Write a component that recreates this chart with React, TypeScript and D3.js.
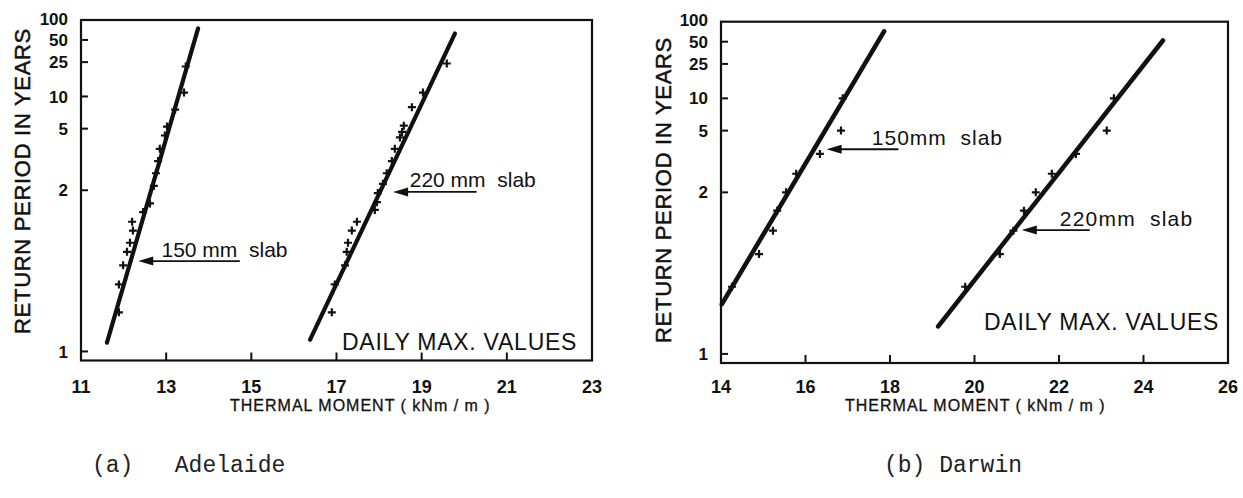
import React, { useEffect, useRef } from "react";
import * as d3 from "d3";

// points: [thermal moment kNm/m, return period years]
const adelaide150 = [
  [13.46, 22], [13.42, 11], [13.21, 7.4], [13.02, 5.2], [12.97, 4.4], [12.85, 3.5],
  [12.81, 2.9], [12.76, 2.45], [12.71, 2.1], [12.62, 1.75], [12.46, 1.62], [12.2, 1.5],
  [12.22, 1.41], [12.15, 1.31], [12.08, 1.25], [11.99, 1.18], [11.89, 1.11], [11.89, 1.05],
];
const adelaide220 = [
  [19.59, 24], [19.03, 11], [18.77, 7.8], [18.58, 5.3], [18.54, 4.7], [18.49, 4.25],
  [18.37, 3.5], [18.3, 2.9], [18.18, 2.45], [18.09, 2.15], [17.97, 1.94], [17.95, 1.77],
  [17.9, 1.65], [17.48, 1.5], [17.36, 1.41], [17.27, 1.31], [17.24, 1.25], [17.2, 1.18],
  [16.96, 1.11], [16.89, 1.05],
];
const darwin150 = [
  [16.88, 10], [16.84, 5], [16.34, 3.33], [15.78, 2.5], [15.54, 2], [15.33, 1.67],
  [15.23, 1.43], [14.9, 1.25], [14.26, 1.11],
];
const darwin220 = [
  [23.3, 10], [23.13, 5], [22.4, 3.33], [21.83, 2.5], [21.45, 2], [21.17, 1.67],
  [20.92, 1.43], [20.6, 1.25], [19.78, 1.11],
];

// fitted straight lines (end points)
const adelaide150Fit = [[11.61, 1.019], [13.75, 74]];
const adelaide220Fit = [[16.38, 1.021], [19.78, 62]];
const darwin150Fit = [[14.02, 1.068], [17.86, 71]];
const darwin220Fit = [[19.14, 1.035], [24.46, 52]];

const returnTicks = [1.014, 2, 5, 10, 25, 50, 100];
const returnLabels = ["1", "2", "5", "10", "25", "50", "100"];
const adelaideTicks = [11, 13, 15, 17, 19, 21, 23];
const darwinTicks = [14, 16, 18, 20, 22, 24, 26];

// inverse normal cdf (Acklam)
function probit(p) {
  const a = [-39.69683028665376, 220.9460984245205, -275.9285104469687, 138.357751867269, -30.66479806614716, 2.506628277459239];
  const b = [-54.47609879822406, 161.5858368580409, -155.6989798598866, 66.80131188771972, -13.28068155288572];
  const c = [-0.007784894002430293, -0.3223964580411365, -2.400758277161838, -2.549732539343734, 4.374664141464968, 2.938163982698783];
  const d = [0.007784695709041462, 0.3224671290700398, 2.445134137142996, 3.754408661907416];
  const pl = 0.02425;
  if (p < pl) {
    const q = Math.sqrt(-2 * Math.log(p));
    return (((((c[0] * q + c[1]) * q + c[2]) * q + c[3]) * q + c[4]) * q + c[5]) / ((((d[0] * q + d[1]) * q + d[2]) * q + d[3]) * q + 1);
  }
  if (p <= 1 - pl) {
    const q = p - 0.5, r = q * q;
    return (((((a[0] * r + a[1]) * r + a[2]) * r + a[3]) * r + a[4]) * r + a[5]) * q / (((((b[0] * r + b[1]) * r + b[2]) * r + b[3]) * r + b[4]) * r + 1);
  }
  const q = Math.sqrt(-2 * Math.log(1 - p));
  return -(((((c[0] * q + c[1]) * q + c[2]) * q + c[3]) * q + c[4]) * q + c[5]) / ((((d[0] * q + d[1]) * q + d[2]) * q + d[3]) * q + 1);
}
const zOf = (T) => probit(1 - 1 / T);

const W = 1243, H = 498;
const ink = "#111";
const sans = "'Liberation Sans', Arial, sans-serif";

const panels = [
  {
    x0: 81, x1: 592, top: 20, bottom: 360.5, domain: [11, 23], ticks: adelaideTicks,
    titleX: 22, titleY: 181, xTitleX: 230, lineW: 4.2,
    series: [adelaide150, adelaide220], fits: [adelaide150Fit, adelaide220Fit],
    notes: [
      { tip: [12.345, 1.2], tail: 14.73, text: "150 mm  slab", tx: 12.89, ls: 0 },
      { tip: [18.33, 1.964], tail: 20.29, text: "220 mm  slab", tx: 18.72, ls: 0 },
    ],
    dailyX: 342, dailyY: 350, caption: "(a)   Adelaide", capX: 92,
  },
  {
    x0: 721, x1: 1228, top: 21.7, bottom: 363, domain: [14, 26], ticks: darwinTicks,
    titleX: 663, titleY: 190, xTitleX: 845, lineW: 4.6,
    series: [darwin150, darwin220], fits: [darwin150Fit, darwin220Fit],
    notes: [
      { tip: [16.5, 3.593], tail: 18.2, text: "150mm  slab", tx: 17.57, ls: 1 },
      { tip: [21.12, 1.436], tail: 22.73, text: "220mm  slab", tx: 22.02, ls: 1.2 },
    ],
    dailyX: 984, dailyY: 330, caption: "(b) Darwin", capX: 884,
  },
];

export default function App() {
  const ref = useRef(null);

  useEffect(() => {
    const svg = d3.select(ref.current);
    svg.selectAll("*").remove();
    const zMax = zOf(100);

    panels.forEach((p) => {
      const x = d3.scaleLinear().domain(p.domain).range([p.x0, p.x1]);
      const y = d3.scaleLinear().domain([-zMax, zMax]).range([p.bottom, p.top]);
      const g = svg.append("g");

      // frame
      g.append("rect").attr("x", p.x0).attr("y", p.top).attr("width", p.x1 - p.x0).attr("height", p.bottom - p.top)
        .attr("fill", "none").attr("stroke", ink).attr("stroke-width", 2.2);

      // y ticks (normal probability scale)
      returnTicks.forEach((t, i) => {
        const yy = y(zOf(t));
        const last = i === returnTicks.length - 1;
        if (!last)
          g.append("line").attr("x1", p.x0).attr("x2", p.x0 + 7).attr("y1", yy).attr("y2", yy)
            .attr("stroke", ink).attr("stroke-width", 2);
        g.append("text").attr("x", p.x0 - 13).attr("y", last ? yy - 1.5 : yy)
          .attr("dy", "0.36em").attr("text-anchor", "end")
          .style("font", `bold 17px ${sans}`).attr("fill", ink).text(returnLabels[i]);
      });

      // x ticks
      p.ticks.forEach((t, i) => {
        const xx = x(t);
        if (i > 0 && i < p.ticks.length - 1)
          g.append("line").attr("x1", xx).attr("x2", xx).attr("y1", p.bottom).attr("y2", p.bottom - 8)
            .attr("stroke", ink).attr("stroke-width", 2);
        g.append("text").attr("x", xx).attr("y", 393).attr("text-anchor", "middle")
          .style("font", `bold 18px ${sans}`).attr("fill", ink).text(String(t));
      });

      // axis titles
      g.append("text").attr("transform", `translate(${p.titleX},${p.titleY}) rotate(-90)`)
        .attr("text-anchor", "middle").attr("dy", "0.36em")
        .style("font", `22px ${sans}`).style("letter-spacing", "0.7px")
        .attr("fill", ink).attr("stroke", ink).attr("stroke-width", 0.5)
        .text("RETURN PERIOD IN YEARS");
      g.append("text").attr("x", p.xTitleX).attr("y", 411)
        .style("font", `16px ${sans}`).style("letter-spacing", "1px")
        .attr("fill", ink).attr("stroke", ink).attr("stroke-width", 0.3)
        .text("THERMAL MOMENT ( kNm / m )");

      // fitted lines
      const line = d3.line().x((d) => x(d[0])).y((d) => y(zOf(d[1])));
      p.fits.forEach((f) => {
        g.append("path").attr("d", line(f)).attr("fill", "none").attr("stroke", ink)
          .attr("stroke-width", p.lineW).attr("stroke-linecap", "round");
      });

      // plotted points
      p.series.forEach((s) => {
        g.selectAll(null).data(s).enter().append("path")
          .attr("transform", (d) => `translate(${x(d[0])},${y(zOf(d[1]))})`)
          .attr("d", "M-4,0H4M0,-4V4").attr("stroke", ink).attr("stroke-width", 2.2);
      });

      // slab labels with arrows
      p.notes.forEach((n) => {
        const ty = y(zOf(n.tip[1]));
        const tx = x(n.tip[0]);
        g.append("line").attr("x1", tx + 10).attr("x2", x(n.tail)).attr("y1", ty).attr("y2", ty)
          .attr("stroke", ink).attr("stroke-width", 1.8);
        g.append("path").attr("d", `M${tx},${ty}L${tx + 15},${ty - 4.5}L${tx + 15},${ty + 4.5}Z`).attr("fill", ink);
        g.append("text").attr("x", x(n.tx)).attr("y", ty - 4.5)
          .style("font", `21px ${sans}`).style("letter-spacing", `${n.ls}px`).style("white-space", "pre")
          .attr("fill", ink).text(n.text);
      });

      g.append("text").attr("x", p.dailyX).attr("y", p.dailyY)
        .style("font", `23px ${sans}`).style("letter-spacing", "0.75px").attr("fill", ink)
        .text("DAILY MAX. VALUES");

      g.append("text").attr("x", p.capX).attr("y", 472)
        .style("font", `23px 'Liberation Mono', 'DejaVu Sans Mono', monospace`).style("white-space", "pre")
        .attr("fill", "#222").text(p.caption);
    });
  }, []);

  return (
    <svg ref={ref} width={W} height={H} viewBox={`0 0 ${W} ${H}`}
      style={{ position: "absolute", left: 0, top: 0, background: "#fff" }} />
  );
}
